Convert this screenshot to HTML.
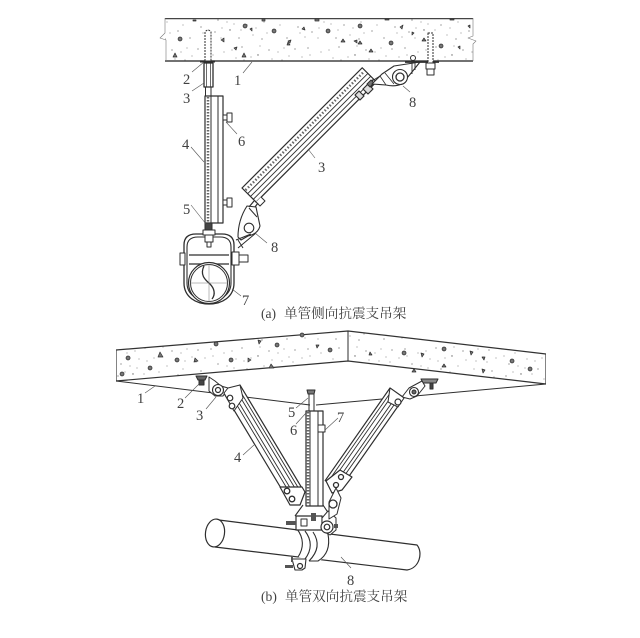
<!DOCTYPE html>
<html><head><meta charset="utf-8">
<style>
html,body{margin:0;padding:0;background:#fff;width:640px;height:638px;overflow:hidden}
svg{display:block}
text{font-family:"Liberation Serif","Noto Serif CJK SC",serif;fill:#404040;font-size:14.5px}
text.c{font-size:13.6px}
</style></head><body>
<svg width="640" height="638" viewBox="0 0 640 638" xmlns="http://www.w3.org/2000/svg">
<defs>
<filter id="soft" x="0" y="0" width="100%" height="100%"><feGaussianBlur stdDeviation="0.35"/></filter>
<pattern id="st" width="97" height="43" patternUnits="userSpaceOnUse">
<g fill="#666">
<circle cx="4" cy="6" r=".6"/><circle cx="11" cy="14" r=".5"/><circle cx="17" cy="5" r=".6"/><circle cx="24" cy="20" r=".6"/><circle cx="30" cy="9" r=".5"/><circle cx="36" cy="30" r=".7"/><circle cx="42" cy="15" r=".5"/><circle cx="48" cy="4" r=".6"/><circle cx="53" cy="25" r=".6"/><circle cx="59" cy="35" r=".5"/><circle cx="64" cy="12" r=".7"/><circle cx="70" cy="22" r=".5"/><circle cx="75" cy="7" r=".6"/><circle cx="81" cy="31" r=".6"/><circle cx="88" cy="17" r=".5"/><circle cx="93" cy="38" r=".6"/><circle cx="7" cy="27" r=".6"/><circle cx="14" cy="37" r=".5"/><circle cx="21" cy="32" r=".6"/><circle cx="45" cy="38" r=".6"/><circle cx="68" cy="39" r=".6"/><circle cx="90" cy="5" r=".5"/><circle cx="57" cy="14" r=".5"/><circle cx="33" cy="22" r=".5"/><circle cx="78" cy="16" r=".5"/>
<circle cx="2" cy="18" r=".5"/><circle cx="9" cy="33" r=".5"/><circle cx="19" cy="12" r=".5"/><circle cx="27" cy="38" r=".5"/><circle cx="38" cy="7" r=".5"/><circle cx="40" cy="24" r=".5"/><circle cx="50" cy="17" r=".5"/><circle cx="62" cy="28" r=".5"/><circle cx="66" cy="3" r=".5"/><circle cx="73" cy="33" r=".5"/><circle cx="84" cy="9" r=".5"/><circle cx="86" cy="25" r=".5"/><circle cx="95" cy="13" r=".5"/><circle cx="28" cy="28" r=".5"/><circle cx="47" cy="30" r=".5"/>
</g>
</pattern>
</defs>
<rect width="640" height="638" fill="#fff"/>
<g filter="url(#soft)">
<g stroke="#2e2e2e" fill="none" stroke-width="1" stroke-linejoin="round">

<!-- (a) slab -->
<rect x="165" y="19" width="308" height="42" fill="url(#st)" stroke="none"/>
<path d="M165 18.500H473M165 61H473" stroke-width="1.500" stroke="#444"/>
<path d="M165 18V33L160 38L166 40V61M473 18V36L468 38L476 41L473 44V61" stroke-width=".6" stroke="#777"/>
<g fill="#777" stroke="#333" stroke-width=".7">
<path d="M175 53l2 4h-4z"/><path d="M180 41a2 2 0 1 1 .1 0z"/><path d="M221 40l3-2 0 4z"/><path d="M234 48l3-1-1 3z"/><path d="M245 28a2 2 0 1 1 .1 0z"/><path d="M244 53l2 4h-4z"/><path d="M250 29l2-1 0 3z"/><path d="M274 33a2 2 0 1 1 .1 0z"/><path d="M288 41l3-1-1 3z"/><path d="M302 29l2-2 1 3z"/><path d="M328 33a2 2 0 1 1 .1 0z"/><path d="M288 42l2 3h-3z"/><path d="M354 41l3-1 0 3z"/><path d="M360 28a2 2 0 1 1 .1 0z"/><path d="M371 49l2 3h-4z"/><path d="M400 27l3-2-1 4z"/><path d="M412 32l2 1-2 2z"/><path d="M391 45a2 2 0 1 1 .1 0z"/><path d="M424 38l2 3h-4z"/><path d="M441 48a2 2 0 1 1 .1 0z"/><path d="M458 47l2-1 0 3z"/><path d="M468 26l2-1 0 3z"/><path d="M360 41l2 3h-4z"/><path d="M343 39l2 3h-4z"/><path d="M193 20h3v1h-3zM262 19h3v2h-3zM315 19h4v2h-4zM385 19h4v1h-4zM450 19h4v1h-4z"/>
</g>

<!-- (a) hanger -->
<path d="M205 61V32Q208 28 211 32V61" fill="#fff" stroke-dasharray="2 1"/>
<path d="M200 61.500H215" stroke-width="2"/>
<rect x="204" y="63" width="9" height="24" fill="#fff" stroke-width="1.300"/>
<path d="M206.500 63V87M210.500 63V87" stroke-width=".7"/>
<path d="M205.500 87V96M211 87V96" stroke-width="1"/>
<rect x="205" y="96" width="18" height="127" fill="#fff" stroke-width="1.200"/>
<path d="M211 96V223M218 96V223" stroke-width="1"/>
<path d="M208 97V222" stroke-width="2.500" stroke="#666" stroke-dasharray="1.500 1.500"/>
<path d="M223 115h4v5h-4zM227 113h5v9h-5zM223 200h4v5h-4zM227 198h5v9h-5z" fill="#fff"/>

<!-- (a) clamp -->
<path d="M184 262V245Q184 234 196 234H222Q234 234 234 245V262" stroke-width="1.300"/>
<path d="M187 262V247Q187 237 198 237H220Q231 237 231 247V262" stroke-width="1.100"/>
<path d="M184 262V283C184 297 196 304 209 304C222 304 234 297 234 283V262" stroke-width="1.300"/>
<path d="M187 262V283C187 295 198 301 209 301C220 301 231 295 231 283V262" stroke-width="1.100"/>
<path d="M189 255H229M189 264H229" stroke-width="1.200"/>
<rect x="180" y="253" width="5" height="12" fill="#fff"/>
<rect x="232" y="252" width="7" height="13" fill="#fff"/>
<rect x="239" y="255" width="9" height="7" fill="#fff"/>
<circle cx="209" cy="283" r="20.500" fill="#fff" stroke-width="1.200"/>
<circle cx="209" cy="283" r="18.500" stroke-width="1"/>
<path d="M204 266C199 276 207 281 210 284C214 288 216 294 212 299" stroke-width="1.300"/>
<path d="M209 264V302M190 283H228" stroke-width=".5" stroke="#777"/>
<rect x="203" y="230" width="12" height="5" fill="#fff"/>
<rect x="205" y="223" width="7" height="7" fill="#444"/>
<rect x="205" y="235" width="8" height="7" fill="#fff"/>
<rect x="207" y="242" width="4" height="5" fill="#fff"/>

<!-- (a) brace -->
<g transform="translate(242,188) rotate(-45)" fill="#fff">
<rect x="0" y="0" width="170" height="20" stroke-width="1.200"/>
<path d="M0 8H170M0 12H170M0 16H170" stroke-width=".9"/>
<path d="M1 4H169" stroke="#666" stroke-width="2.500" stroke-dasharray="1.500 2"/>
</g>
<path d="M355 95l4-4 5 5-4 4zM363 89l5-5 5 5-5 5z" fill="#ddd" stroke-width="1.200"/>
<path d="M367 84l4-4 3 3-4 4z" fill="#777"/>
<path d="M256 202l4 4 5-5-4-4" fill="#fff"/>
<!-- upper lug -->
<path d="M372 84L382 74L394 66L420 62L412 72L402 84Q395 87 386 85Z" fill="#fff" stroke-width="1.100"/>
<path d="M372 81L380 76L386 85M385 73L394 84" stroke-width=".8"/>
<circle cx="400" cy="77" r="7.500" fill="#fff" stroke-width="1.100"/>
<circle cx="400" cy="77" r="4" stroke-width="1.300"/>
<path d="M412 62V74M415 62V70" stroke-width=".9"/>
<circle cx="413" cy="58" r="2.500" fill="#fff"/>
<path d="M405 62H439" stroke-width="1.800"/>
<rect x="428" y="33" width="5" height="41" fill="#fff" stroke-dasharray="2 1"/>
<rect x="426" y="63" width="9" height="6" fill="#fff"/>
<rect x="427" y="69" width="7" height="6" fill="#fff"/>
<!-- lower lug -->
<path d="M247 206L256 207L260 226Q258 234 248 236L241 240L238 237Q238 220 247 206Z" fill="#fff" stroke-width="1.100"/>
<circle cx="249" cy="228" r="4.800" fill="#fff" stroke-width="1.100"/>
<path d="M249 208L257 217M236 240L251 234M238 248L256 233M238 240L243 248" stroke-width="1"/>
<path d="M254 201L249 207M258 203L255 207" stroke-width="1.200"/>

<!-- (a) leaders -->
<g stroke="#555" stroke-width=".6">
<path d="M192 72L204 62M192 91L204 83M243 73L252 62M191 147L204 162M226 122L237 134M308 149L315 158M403 86L410 92M191 205L206 224M255 233L267 243M232 289L241 296"/>
</g>

<!-- (b) slab -->
<path d="M116 350L348 331V360L116 381Z" fill="url(#st)" stroke="none"/>
<path d="M348 331L546 354V384L348 361Z" fill="url(#st)" stroke="none"/>
<path d="M116 350L348 331L546 354V384L348 361L116 381Z" stroke-width="1.200" stroke="#333"/>
<path d="M348 331V361" stroke-width="1"/>
<path d="M116 381L310 405M546 384L316 405" stroke-width="1"/>
<g fill="#777" stroke="#333" stroke-width=".7">
<path d="M128 360a2 2 0 1 1 .1 0z"/><path d="M160 352l3 5h-5z"/><path d="M150 370a2 2 0 1 1 .1 0z"/><path d="M177 362a2 2 0 1 1 .1 0z"/><path d="M195 358l3 3-4 1z"/><path d="M122 376a2 2 0 1 1 .1 0z"/><path d="M216 346a2 2 0 1 1 .1 0z"/><path d="M231 362a2 2 0 1 1 .1 0z"/><path d="M248 358l3 2-3 2z"/><path d="M258 340l3 1-2 3z"/><path d="M277 347a2 2 0 1 1 .1 0z"/><path d="M271 364l3 4h-5z"/><path d="M302 337a2 2 0 1 1 .1 0z"/><path d="M316 345l3 0-2 3z"/><path d="M330 352a2 2 0 1 1 .1 0z"/><path d="M370 352l2 3-3 0z"/><path d="M404 355a2 2 0 1 1 .1 0z"/><path d="M421 353l3 1-2 3z"/><path d="M444 351a2 2 0 1 1 .1 0z"/><path d="M444 364l2 3h-4z"/><path d="M470 351l3 1-2 3z"/><path d="M482 357l3 0-1 3z"/><path d="M512 363a2 2 0 1 1 .1 0z"/><path d="M530 371a2 2 0 1 1 .1 0z"/><path d="M482 369l3 1-2 3z"/><path d="M414 369l2 3h-4z"/>
</g>

<!-- (b) left lug -->
<path d="M196 376H207L205 380H198Z" fill="#666"/>
<rect x="199" y="380" width="5" height="5" fill="#444"/>
<path d="M209 377L215 381L221 386L228 388L223 396L215 396L209 391Z" fill="#fff"/>
<circle cx="218" cy="390" r="5.500" fill="#fff" stroke-width="1.100"/>
<circle cx="218" cy="390" r="2.500" stroke-width="1.200"/>

<!-- (b) right lug -->
<path d="M421 379H438L436 383H423Z" fill="#888"/>
<rect x="430" y="383" width="3" height="6" fill="#444"/>
<path d="M402 397L409 388L422 381L425 386L417 396L410 399Z" fill="#fff"/>
<circle cx="414" cy="392" r="4.500" fill="#fff" stroke-width="1.100"/>
<circle cx="414" cy="392" r="2" fill="#666"/>

<!-- (b) braces -->
<g transform="translate(240,385) rotate(59)" fill="#fff">
<rect x="0" y="0" width="122" height="18" stroke-width="1.200"/>
<path d="M0 3H122M0 6H122M0 10H122M0 13H122" stroke-width=".9"/>
</g>
<path d="M224 393L228 388L240 385L243 398L234 411Z" fill="#fff" stroke-width="1"/>
<circle cx="230" cy="398" r="2.800" fill="#fff" stroke-width="1.200"/><circle cx="232" cy="406" r="2.800" fill="#fff" stroke-width="1.200"/>
<g transform="translate(390,388) rotate(125)" fill="#fff">
<rect x="0" y="-17" width="113" height="17" stroke-width="1.200"/>
<path d="M0 -3H113M0 -6H113M0 -10H113M0 -13H113" stroke-width=".9"/>
</g>
<path d="M390 388L404 398L398 407L388 402Z" fill="#fff" stroke-width="1"/>
<circle cx="398" cy="402" r="3" fill="#fff" stroke-width="1.200"/>
<path d="M280 487L302 487L305 492L300 505L290 505Z" fill="#fff" stroke-width="1.200"/>
<circle cx="287" cy="491" r="2.800" fill="#fff" stroke-width="1.300"/><circle cx="292" cy="499" r="2.800" fill="#fff" stroke-width="1.300"/>
<path d="M326 481L340 470L352 477L342 490L332 493Z" fill="#fff" stroke-width="1.200"/>
<circle cx="341" cy="477" r="2.500" fill="#fff" stroke-width="1.300"/>
<circle cx="336" cy="485" r="2.500" fill="#fff" stroke-width="1.300"/>

<!-- (b) channel -->
<path d="M309 390V411M314 390V411" stroke-width="1"/>
<path d="M307 390H315L314 394H308Z" fill="#777"/>
<rect x="306" y="411" width="17" height="95" fill="#fff" stroke-width="1.200"/>
<path d="M310 411V506M318 411V506" stroke-width="1"/>
<path d="M308 412V505" stroke="#666" stroke-width="2.500" stroke-dasharray="1.500 1.500"/>
<rect x="318" y="425" width="7" height="7" fill="#fff"/>

<!-- (b) pipe -->
<path d="M215 519.500L417 545C423 552 420 568 407 570L215 547Z" fill="#fff" stroke-width="1.200"/>
<ellipse cx="215" cy="533" rx="9.500" ry="14" transform="rotate(8 215 533)" fill="#fff" stroke-width="1.200"/>

<!-- (b) clamp -->
<path d="M297 529C304 538 304 548 298 557L310 561L320 561C329 553 331 543 327 534L320 528Z" fill="#fff" stroke="none"/>
<path d="M297 529C304 538 304 548 298 557" stroke-width="1.100"/>
<path d="M305 531C312 540 312 550 305 559" stroke-width="1.100"/>
<path d="M313 532C319 541 319 551 309 561" stroke-width="1.100"/>
<path d="M328 534C330 545 328 555 318 561L309 561" stroke-width="1.100"/>
<rect x="296" y="516" width="26" height="14" fill="#fff" stroke-width="1.200"/>
<rect x="301" y="519" width="6" height="7" fill="#fff"/><rect x="311" y="513" width="5" height="8" fill="#555" stroke="none"/>
<path d="M295 516L303 505M323 505L331 517" stroke-width="1.100"/>
<path d="M322 518L328 511L336 518L336 530L330 535L322 530Z" fill="#fff" stroke-width="1"/>
<circle cx="327" cy="527" r="6" fill="#fff" stroke-width="1.200"/>
<circle cx="327" cy="527" r="2.800" stroke-width="1.200"/>
<path d="M334 524h4v4h-4zM286 521h10v4h-10z" fill="#555" stroke="none"/>
<path d="M336 488L341 498L337 514L329 519L329 502Z" fill="#fff" stroke-width="1"/>
<circle cx="333" cy="504" r="4" fill="#fff" stroke-width="1.300"/>
<path d="M292 559H306L305 568L302 570H295Z" fill="#fff" stroke-width="1.100"/>
<circle cx="300" cy="566" r="2.500" fill="#fff" stroke-width="1.200"/>
<path d="M285 565h8v3h-8zM291 556h2v6h-2z" fill="#555" stroke="none"/>

<!-- (b) leaders -->
<g stroke="#555" stroke-width=".6">
<path d="M145 393L155 386M185 398L199 384M206 409L216 397M243 455L254 445M296 408L308 398M296 424L306 413M325 430L338 418M351 568L341 557"/>
</g>
</g>

<!-- labels -->
<g>
<text x="183" y="84">2</text><text x="183" y="103">3</text><text x="234" y="85">1</text><text x="182" y="149">4</text><text x="238" y="146">6</text><text x="318" y="172">3</text><text x="409" y="107">8</text><text x="183" y="214">5</text><text x="271" y="252">8</text><text x="242" y="305">7</text>
<text x="137" y="403">1</text><text x="177" y="408">2</text><text x="196" y="420">3</text><text x="288" y="417">5</text><text x="290" y="435">6</text><text x="234" y="462">4</text><text x="337" y="422">7</text><text x="347" y="585">8</text>
<text class="c" x="261" y="318">(a)</text><text class="c" x="284" y="318">单管侧向抗震支吊架</text>
<text class="c" x="261" y="601">(b)</text><text class="c" x="285" y="601">单管双向抗震支吊架</text>
</g>
</g>
</svg>
</body></html>
